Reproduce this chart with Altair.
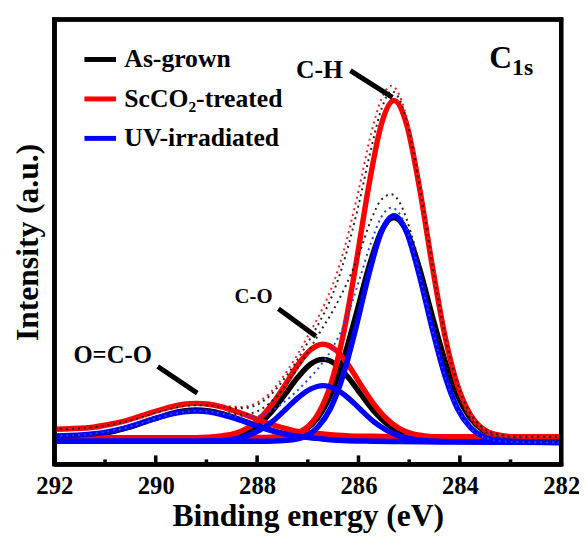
import altair as alt
import pandas as pd

# ---------------- data (y = % of frame height) ----------------
SAMPLES = ["As-grown", "ScCO\u2082-treated", "UV-irradiated"]
COLORS = ["#000000", "#ff0000", "#0000ff"]

# C-H component (centre ~285.3 eV)
CH_X = [292.0, 288.3, 287.8, 287.3, 287.05, 286.8, 286.55, 286.3, 286.05, 285.8, 285.55,
        285.3, 285.05, 284.8, 284.55, 284.3, 284.05, 283.8, 283.55, 283.3, 282.8, 282.0]
CH_BLACK = [5.5, 5.5, 5.6, 6.3, 7.7, 10.5, 15.6, 23.5, 33.6, 44.2, 52.4,
            55.5, 52.4, 44.2, 33.6, 23.5, 15.6, 10.5, 7.7, 6.3, 5.6, 5.4]
CH_RED = [6.0, 6.0, 6.05, 6.7, 8.0, 11.3, 17.9, 29.2, 45.0, 62.4, 76.4,
          81.8, 76.4, 62.4, 45.0, 29.2, 17.9, 11.3, 8.0, 6.7, 6.1, 6.2]
CH_BLUE = [5.2, 5.2, 5.2, 5.5, 6.3, 8.4, 12.6, 20.1, 30.7, 42.5, 52.2,
           55.9, 52.2, 42.5, 30.7, 20.1, 12.6, 8.4, 6.3, 5.5, 5.1, 4.9]

# C-O component (centre ~286.7 eV)
CO_X = [292.0, 289.2, 288.7, 288.45, 288.2, 287.95, 287.7, 287.45, 287.2, 286.95, 286.7,
        286.45, 286.2, 285.95, 285.7, 285.45, 285.2, 284.95, 284.7, 284.2, 282.0]
CO_BLACK = [5.5, 5.5, 5.8, 6.3, 7.3, 9.2, 12.0, 15.7, 19.5, 22.5, 23.6,
            22.5, 19.5, 15.7, 12.0, 9.2, 7.3, 6.3, 5.8, 5.5, 5.4]
CO_RED = [6.0, 6.0, 6.4, 6.9, 8.1, 10.3, 13.6, 17.8, 22.3, 25.7, 27.0,
          25.7, 22.3, 17.8, 13.6, 10.3, 8.1, 6.9, 6.4, 6.0, 6.2]
CO_BLUE = [5.2, 5.2, 5.3, 5.7, 6.4, 7.7, 9.6, 12.2, 14.9, 16.9, 17.7,
           16.9, 14.9, 12.2, 9.6, 7.7, 6.4, 5.7, 5.3, 5.1, 4.9]

# O=C-O component (centre ~289.2 eV)
OCO_X = [292.0, 291.7, 291.2, 290.95, 290.7, 290.45, 290.2, 289.95, 289.7, 289.45, 289.2,
         288.95, 288.7, 288.45, 288.2, 287.95, 287.7, 287.45, 287.2, 286.95, 286.7,
         286.2, 285.7, 285.2, 284.0, 282.0]
OCO_BLACK = [6.1, 6.2, 6.7, 7.1, 7.8, 8.6, 9.6, 10.5, 11.4, 12.0, 12.2,
             12.0, 11.4, 10.5, 9.5, 8.5, 7.6, 6.9, 6.4, 6.0, 5.8,
             5.6, 5.5, 5.5, 5.5, 5.4]
OCO_RED = [7.9, 8.0, 8.4, 8.9, 9.5, 10.3, 11.2, 12.1, 12.9, 13.5, 13.7,
           13.5, 12.9, 12.0, 11.0, 9.9, 8.9, 8.1, 7.4, 7.1, 6.8,
           6.4, 6.3, 6.2, 6.2, 6.2]
OCO_BLUE = [6.4, 6.5, 6.9, 7.3, 7.9, 8.7, 9.6, 10.5, 11.3, 11.8, 12.0,
            11.8, 11.2, 10.4, 9.4, 8.4, 7.5, 6.8, 6.3, 6.0, 5.7,
            5.3, 5.2, 5.1, 5.0, 4.9]

# dotted envelopes
ENV_X = [292.0, 291.5, 291.0, 290.5, 290.0, 289.5, 289.2, 288.9, 288.6, 288.3, 288.0,
         287.75, 287.5, 287.25, 287.0, 286.75, 286.5, 286.25, 286.0, 285.75, 285.55,
         285.35, 285.15, 284.95, 284.7, 284.45, 284.2, 283.95, 283.7, 283.45, 283.2,
         282.9, 282.5, 282.0]
ENV_RED = [7.9, 8.1, 8.8, 10.1, 11.9, 13.4, 13.7, 13.6, 13.1, 12.9, 13.9,
           16.0, 19.5, 23.8, 28.8, 34.1, 40.6, 49.7, 61.5, 74.4, 82.1,
           85.1, 81.8, 72.7, 56.1, 38.5, 24.3, 15.0, 9.9, 7.5, 6.6,
           6.2, 6.2, 6.2]
ENV_RED_RAW = [7.9, 8.1, 8.7, 9.9, 11.6, 13.0, 13.3, 13.2, 12.8, 12.6, 13.4,
               15.4, 18.7, 22.7, 27.4, 32.4, 38.5, 47.1, 58.2, 71.0, 79.8,
               83.9, 81.0, 72.3, 56.1, 38.5, 24.3, 15.0, 9.9, 7.5, 6.6,
               6.2, 6.2, 6.2]
ENV_BLACK = [6.1, 6.3, 7.0, 8.4, 10.3, 11.9, 12.2, 12.0, 11.6, 11.2, 11.9,
             13.8, 16.8, 20.8, 25.2, 29.9, 34.6, 40.2, 46.9, 55.0, 59.5,
             60.7, 58.0, 51.5, 40.4, 29.5, 20.0, 13.3, 9.2, 7.0, 6.1,
             5.6, 5.5, 5.4]
ENV_BLUE = [6.4, 6.6, 7.3, 8.5, 10.3, 11.7, 12.0, 11.8, 11.2, 10.6, 10.8,
            11.8, 13.7, 16.1, 19.0, 22.2, 26.4, 32.4, 40.9, 49.9, 55.6,
            57.7, 55.6, 49.4, 38.0, 26.1, 16.6, 10.5, 7.2, 5.8, 5.2,
            5.0, 4.95, 4.9]

# axis ticks (inward, at the bottom of the frame)
MAJOR_TICKS = [292, 290, 288, 286, 284, 282]
MINOR_TICKS = [291, 289, 287, 285, 283]
MAJOR_LEN = 2.0   # in y units
MINOR_LEN = 1.1
TICK_HALF = 0.035  # half tick width, in eV

X_MIN, X_MAX = 282, 292
Y_MIN, Y_MAX = 0, 100
FRAME_DX = 0.039   # half frame thickness in eV
FRAME_DY = 0.44    # half frame thickness in y units

# peak annotations
ANN_TEXT = ["C-H", "C-O", "O=C-O"]
ANN_X = [286.77, 288.07, 290.85]
ANN_Y = [88.7, 37.5, 24.5]
ANN_SIZE = [26, 21, 25]
LEAD_X1 = [286.16, 287.58, 289.96]
LEAD_Y1 = [88.5, 35.0, 22.0]
LEAD_X2 = [285.33, 286.84, 289.18]
LEAD_Y2 = [82.5, 28.8, 16.0]

# panel label C_1s
C1S_TEXT = ["C", "1s"]
C1S_X = [283.42, 282.97]
C1S_Y = [91.4, 89.0]
C1S_SIZE = [32, 24]

FONT = "Liberation Serif"
W, H = 514, 451

# ---------------- tables ----------------
def comp_rows(sample, comp, xs, ys):
    return [{"x": a, "y": b, "sample": sample, "comp": comp} for a, b in zip(xs, ys)]

comp_tables = {}
for s, ch, co, oco in zip(SAMPLES, [CH_BLACK, CH_RED, CH_BLUE], [CO_BLACK, CO_RED, CO_BLUE],
                          [OCO_BLACK, OCO_RED, OCO_BLUE]):
    rows = comp_rows(s, "CH", CH_X, ch) + comp_rows(s, "CO", CO_X, co) + comp_rows(s, "OCO", OCO_X, oco)
    comp_tables[s] = pd.DataFrame(rows)

env_rows = []
for name, col, ys in [("red", "#ff2020", ENV_RED), ("redraw", "#222222", ENV_RED_RAW),
                      ("black", "#222222", ENV_BLACK), ("blue", "#2040ff", ENV_BLUE)]:
    env_rows += [{"x": a, "y": b, "env": name, "col": col} for a, b in zip(ENV_X, ys)]
env_df = pd.DataFrame(env_rows)

ann_df = pd.DataFrame({"x": ANN_X, "y": ANN_Y, "t": ANN_TEXT, "s": ANN_SIZE})
lead_df = pd.DataFrame({"x": LEAD_X1, "y": LEAD_Y1, "x2": LEAD_X2, "y2": LEAD_Y2})
c1s_df = pd.DataFrame({"x": C1S_X, "y": C1S_Y, "t": C1S_TEXT, "s": C1S_SIZE})

all_ticks = MAJOR_TICKS + MINOR_TICKS
tick_df = pd.DataFrame({
    "x": [t + TICK_HALF for t in all_ticks],
    "x2": [t - TICK_HALF for t in all_ticks],
    "y": [float(Y_MIN)] * len(all_ticks),
    "y2": [Y_MIN + MAJOR_LEN] * len(MAJOR_TICKS) + [Y_MIN + MINOR_LEN] * len(MINOR_TICKS),
})

# frame drawn as four filled bars
frame_df = pd.DataFrame({
    "x":  [X_MAX + FRAME_DX, X_MIN + FRAME_DX, X_MAX + FRAME_DX, X_MAX + FRAME_DX],
    "x2": [X_MAX - FRAME_DX, X_MIN - FRAME_DX, X_MIN - FRAME_DX, X_MIN - FRAME_DX],
    "y":  [Y_MIN - FRAME_DY, Y_MIN - FRAME_DY, Y_MAX - FRAME_DY, Y_MIN - FRAME_DY],
    "y2": [Y_MAX + FRAME_DY, Y_MAX + FRAME_DY, Y_MAX + FRAME_DY, Y_MIN + FRAME_DY],
})
# and, in addition, as a closed line path
frame_path_df = pd.DataFrame({
    "x": [float(X_MAX), float(X_MAX), float(X_MIN), float(X_MIN), float(X_MAX)],
    "y": [float(Y_MIN), float(Y_MAX), float(Y_MAX), float(Y_MIN), float(Y_MIN)],
    "o": [0, 1, 2, 3, 4],
})

# ---------------- scales / axes ----------------
xscale = alt.Scale(domain=[X_MIN, X_MAX], reverse=True, nice=False, zero=False)
yscale = alt.Scale(domain=[Y_MIN, Y_MAX], nice=False, zero=False)
xaxis = alt.Axis(orient="bottom", values=MAJOR_TICKS, format="d", title="Binding energy (eV)",
                 ticks=False, domain=True, domainColor="black", domainWidth=4, grid=False,
                 labelFlush=False, labelPadding=10,
                 labelFont=FONT, labelFontSize=25, labelFontWeight="bold", labelColor="black",
                 titleFont=FONT, titleFontSize=32, titleFontWeight="bold", titleColor="black",
                 titlePadding=2)
yaxis = alt.Axis(orient="left", title="Intensity (a.u.)", labels=False, ticks=False, grid=False,
                 domain=True, domainColor="black", domainWidth=4,
                 titleFont=FONT, titleFontSize=32, titleFontWeight="bold", titleColor="black",
                 titlePadding=10)
X = alt.X("x:Q", scale=xscale, axis=xaxis)
Y = alt.Y("y:Q", scale=yscale, axis=yaxis)
color = alt.Color("sample:N", scale=alt.Scale(domain=SAMPLES, range=COLORS),
                  legend=alt.Legend(title=None, orient="none", legendX=28, legendY=22,
                                    symbolType="stroke", symbolStrokeWidth=5, symbolSize=1024,
                                    labelFont=FONT, labelFontSize=26, labelFontWeight="bold",
                                    labelColor="black", labelOffset=6, labelLimit=400,
                                    rowPadding=8, padding=0))

layers = []
for s in SAMPLES:
    layers.append(alt.Chart(comp_tables[s]).mark_line(strokeWidth=5.5, interpolate="monotone").encode(
        x=X, y=Y, color=color, detail="comp:N"))
layers.append(alt.Chart(env_df).mark_line(strokeWidth=2, strokeDash=[2, 4], interpolate="monotone").encode(
    x=X, y=Y, detail="env:N", color=alt.Color("col:N", scale=None)))
layers.append(alt.Chart(lead_df).mark_rule(color="black", strokeWidth=5).encode(
    x=X, y=Y, x2="x2:Q", y2="y2:Q"))
layers.append(alt.Chart(ann_df).mark_text(font=FONT, fontWeight="bold", color="black",
                                          align="center", baseline="middle").encode(
    x=X, y=Y, text="t:N", size=alt.Size("s:Q", scale=None)))
layers.append(alt.Chart(c1s_df).mark_text(font=FONT, fontWeight="bold", color="black",
                                          align="left", baseline="middle").encode(
    x=X, y=Y, text="t:N", size=alt.Size("s:Q", scale=None)))
layers.append(alt.Chart(tick_df).mark_rect(color="black").encode(
    x=X, y=Y, x2="x2:Q", y2="y2:Q"))
layers.append(alt.Chart(frame_df).mark_rect(color="black").encode(
    x=X, y=Y, x2="x2:Q", y2="y2:Q"))
layers.append(alt.Chart(frame_path_df).mark_line(color="black", strokeWidth=4).encode(
    x=X, y=Y, order="o:Q"))

chart = alt.layer(*layers).properties(
    width=W, height=H, autosize="none", background="white",
    padding={"left": 47, "top": 8, "right": 18, "bottom": 70},
).configure_view(stroke="black", strokeWidth=4)

chart.save("out.html", embed_options={"renderer": "svg", "actions": False})
